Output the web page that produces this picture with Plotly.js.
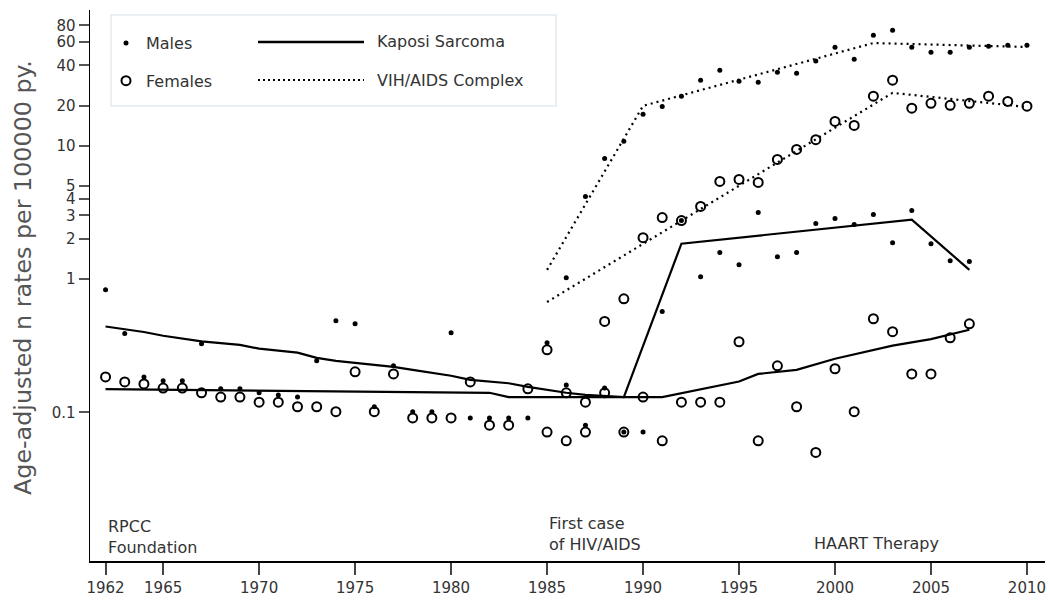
<!DOCTYPE html>
<html>
<head>
<meta charset="utf-8">
<script src="https://cdn.plot.ly/plotly-3.0.1.min.js"></script>
<style>html,body{margin:0;padding:0;background:#fff;}#chart{width:1050px;height:600px;}</style>
</head>
<body>
<div id="chart"></div>
<script>
// ---- Data (age-adjusted rates per 100000 person-years) ----
const ksYears = [1962,1963,1964,1965,1966,1967,1968,1969,1970,1971,1972,1973,1974,1975,1976,1977,1978,1979,1980,1981,1982,1983,1984,1985,1986,1987,1988,1989,1990,1991,1992,1993,1994,1995,1996,1997,1998,1999,2000,2001,2002,2003,2004,2005,2006,2007];
const ksMaleRates = [0.83,0.39,0.184,0.172,0.172,0.326,0.150,0.150,0.140,0.135,0.130,0.243,0.486,0.461,0.110,0.223,0.101,0.101,0.395,0.0906,0.0906,0.0906,0.0906,0.332,0.160,0.080,0.152,0.071,0.071,0.571,2.74,1.04,1.58,1.28,3.15,1.47,1.58,2.61,2.84,2.56,3.04,1.87,3.26,1.84,1.37,1.35];
const ksFemaleRates = [0.184,0.169,0.163,0.152,0.152,0.140,0.130,0.130,0.119,0.119,0.110,0.110,0.101,0.201,0.101,0.194,0.0906,0.0906,0.0906,0.169,0.080,0.080,0.150,0.071,0.061,0.071,0.140,0.071,0.130,0.061,0.119,0.119,0.119,0.338,0.061,0.223,0.110,0.050,0.212,0.101,0.503,0.402,0.194,0.194,0.362,0.461];

const aidsMaleYears = [1986,1987,1988,1989,1990,1991,1992,1993,1994,1995,1996,1997,1998,1999,2000,2001,2002,2003,2004,2005,2006,2007,2008,2009,2010];
const aidsMaleRates = [1.02,4.16,8.03,10.8,17.2,19.7,23.5,31.0,36.8,30.4,29.9,35.6,35.0,43.1,54.8,44.6,67.5,73.6,54.8,50.3,50.3,54.8,55.7,56.7,56.7];
const aidsFemaleYears = [1985,1986,1987,1988,1989,1990,1991,1992,1993,1994,1995,1996,1997,1998,1999,2000,2001,2002,2003,2004,2005,2006,2007,2008,2009,2010];
const aidsFemaleRates = [0.294,0.140,0.119,0.48,0.71,2.04,2.89,2.74,3.50,5.39,5.58,5.30,7.89,9.38,11.1,15.2,14.2,23.5,31.0,19.1,20.8,20.1,20.8,23.5,21.5,19.8];

// fitted trend lines
const ksMaleFitYears = [1962,1963,1964,1965,1966,1967,1968,1969,1970,1971,1972,1973,1974,1975,1976,1977,1978,1979,1980,1981,1982,1983,1984,1985,1986,1987,1988,1989,1992,2004,2007];
const ksMaleFit = [0.44,0.42,0.40,0.375,0.356,0.34,0.33,0.32,0.30,0.29,0.28,0.256,0.243,0.235,0.227,0.219,0.208,0.198,0.188,0.175,0.169,0.165,0.155,0.147,0.140,0.135,0.132,0.130,1.84,2.79,1.17];
const ksFemaleFitYears = [1962,1982,1983,1991,1995,1996,1998,2000,2003,2005,2007];
const ksFemaleFit = [0.149,0.140,0.130,0.130,0.170,0.194,0.208,0.252,0.316,0.354,0.416];
const aidsMaleFitYears = [1985,1990,2002,2010];
const aidsMaleFit = [1.17,19.9,58.9,55.0];
const aidsFemaleFitYears = [1985,2003,2010];
const aidsFemaleFit = [0.672,24.9,19.5];

const xTicks = [1962,1965,1970,1975,1980,1985,1990,1995,2000,2005,2010];
const yTicks = [0.1,1,2,3,4,5,10,20,40,60,80];
const yTickText = ['0.1','1','2','3','4','5','10','20','40','60','80'];
const yTitle = 'Age-adjusted n rates per 100000 py.';

// ---- Traces ----
const FONT = 'DejaVu Sans, Verdana, sans-serif';
const lineStyle = {color:'#000', width:2.2};
const dotStyle = {color:'#000', width:2.2, dash:'2px,4px'};
const femaleMarker = {symbol:'circle-open', size:9, color:'#000', line:{width:2, color:'#000'}};
const maleMarker = {symbol:'circle', size:5, color:'#000'};
const traces = [
  {x:ksMaleFitYears, y:ksMaleFit, mode:'lines', line:lineStyle, name:'Kaposi Sarcoma', showlegend:false, hoverinfo:'skip'},
  {x:ksFemaleFitYears, y:ksFemaleFit, mode:'lines', line:lineStyle, name:'Kaposi Sarcoma (F)', showlegend:false, hoverinfo:'skip'},
  {x:aidsMaleFitYears, y:aidsMaleFit, mode:'lines', line:dotStyle, name:'VIH/AIDS Complex', showlegend:false, hoverinfo:'skip'},
  {x:aidsFemaleFitYears, y:aidsFemaleFit, mode:'lines', line:dotStyle, name:'VIH/AIDS Complex (F)', showlegend:false, hoverinfo:'skip'},
  {x:ksYears, y:ksFemaleRates, mode:'markers', name:'Females', legendgroup:'f', legendrank:2, marker:femaleMarker},
  {x:aidsFemaleYears, y:aidsFemaleRates, mode:'markers', name:'Females', legendgroup:'f', legendrank:2, showlegend:false, marker:femaleMarker},
  {x:ksYears, y:ksMaleRates, mode:'markers', name:'Males', legendgroup:'m', legendrank:1, marker:maleMarker},
  {x:aidsMaleYears, y:aidsMaleRates, mode:'markers', name:'Males', legendgroup:'m', legendrank:1, showlegend:false, marker:maleMarker}
];

// pixel helpers for legend decoration (paper coords)
const L = 90, R = 1045, T = 10, B = 561;
const px = v => (v - L) / (R - L);
const py = v => (B - v) / (B - T);

const layout = {
  width:1050, height:600,
  margin:{l:L, r:1050-R, t:T, b:600-B},
  paper_bgcolor:'#fff', plot_bgcolor:'#fff',
  font:{family:FONT, color:'#333'},
  showlegend:true,
  legend:{x:px(106), y:py(26), xanchor:'left', yanchor:'top', bgcolor:'rgba(0,0,0,0)',
          borderwidth:0, font:{family:FONT, size:16, color:'#333'},
          traceorder:'grouped', tracegroupgap:14},
  xaxis:{range:[1961.19,2010.94], tickvals:xTicks, ticktext:xTicks.map(String),
         showline:true, linecolor:'#000', linewidth:1.5, mirror:false,
         ticks:'outside', ticklen:12, tickwidth:2, tickcolor:'#444',
         showgrid:false, zeroline:false, tickfont:{family:FONT, size:15, color:'#333'}},
  yaxis:{type:'log', range:[-2.116,2.018], tickvals:yTicks, ticktext:yTickText,
         showline:true, linecolor:'#000', linewidth:1.5,
         ticks:'outside', ticklen:10, tickwidth:2, tickcolor:'#555',
         showgrid:false, zeroline:false, tickfont:{family:FONT, size:15, color:'#333'}},
  shapes:[
    {type:'rect', xref:'paper', yref:'paper', x0:px(111), x1:px(556), y0:py(106), y1:py(15),
     line:{color:'#e2eaee', width:1.5}, fillcolor:'rgba(0,0,0,0)', layer:'below'},
    {type:'line', xref:'paper', yref:'paper', x0:px(258), x1:px(364), y0:py(42), y1:py(42),
     line:{color:'#000', width:2.5}},
    {type:'line', xref:'paper', yref:'paper', x0:px(258), x1:px(364), y0:py(80), y1:py(80),
     line:{color:'#000', width:2, dash:'2px,3px'}}
  ],
  annotations:[
    {text:yTitle, xref:'paper', yref:'paper', x:px(23), y:py(278), xanchor:'center', yanchor:'middle',
     textangle:-90, showarrow:false, font:{family:FONT, size:23.8, color:'#555'}},
    {text:'Kaposi Sarcoma', xref:'paper', yref:'paper', x:px(375), y:py(42), xanchor:'left', yanchor:'middle',
     showarrow:false, font:{family:FONT, size:16, color:'#333'}},
    {text:'VIH/AIDS Complex', xref:'paper', yref:'paper', x:px(375), y:py(80), xanchor:'left', yanchor:'middle',
     showarrow:false, font:{family:FONT, size:16, color:'#333'}},
    {text:'RPCC<br>Foundation', xref:'x', yref:'paper', x:1962, y:py(537), xanchor:'left', yanchor:'middle', align:'left',
     showarrow:false, font:{family:FONT, size:16, color:'#333'}},
    {text:'First case<br>of HIV/AIDS', xref:'x', yref:'paper', x:1985, y:py(534), xanchor:'left', yanchor:'middle', align:'left',
     showarrow:false, font:{family:FONT, size:16, color:'#333'}},
    {text:'HAART Therapy', xref:'x', yref:'paper', x:1998.8, y:py(543), xanchor:'left', yanchor:'middle', align:'left',
     showarrow:false, font:{family:FONT, size:16, color:'#333'}}
  ]
};

Plotly.newPlot('chart', traces, layout, {displayModeBar:false, staticPlot:true});
</script>
</body>
</html>
